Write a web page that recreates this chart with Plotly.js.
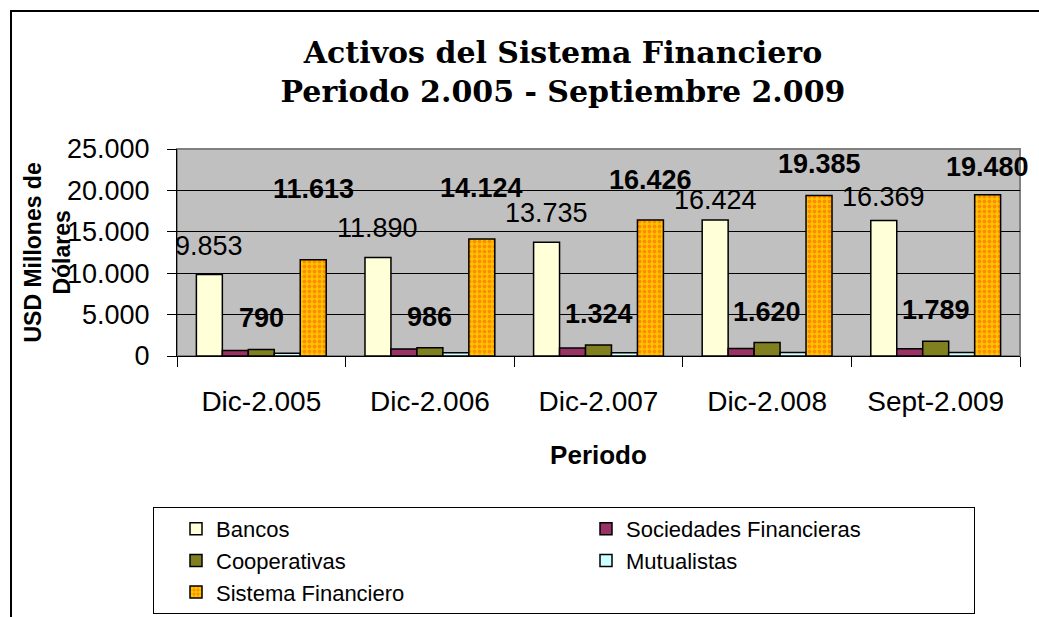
<!DOCTYPE html>
<html><head><meta charset="utf-8">
<script src="https://cdn.plot.ly/plotly-3.0.1.min.js"></script>
<style>html,body{margin:0;padding:0;background:#fff;overflow:hidden}#chart{width:1039px;height:617px}</style>
</head><body><div id="chart"></div>
<script>
// ---- data ----
const categories = ['Dic-2.005', 'Dic-2.006', 'Dic-2.007', 'Dic-2.008', 'Sept-2.009'];
const bancos = [9853, 11890, 13735, 16424, 16369];
const sociedades = [650, 860, 960, 920, 890];
const cooperativas = [790, 986, 1324, 1620, 1789];
const mutualistas = [320, 388, 407, 421, 432];
const sistema = [11613, 14124, 16426, 19385, 19480];
const yTickVals = [0, 5000, 10000, 15000, 20000, 25000];
const seriesNames = ['Bancos', 'Sociedades Financieras', 'Cooperativas', 'Mutualistas', 'Sistema Financiero'];

// ---- label placement (pixels above bar top) ----
const bancosLabelShift = [28, 30, 29, 20, 23];
const coopLabelShift = [31, 31, 31, 31, 31];
const sistemaLabelShift = [71, 51, 40, 31, 28];

// ---- geometry ----
const W = 1039, H = 617, PL = 177, PR = 1020, PT = 149, PB = 356;
const pw = PR - PL, ph = PB - PT;
const px2x = p => (p - PL) / pw;
const px2y = p => (PB - p) / ph;
const BARGAP = 0.23;
const barW = (1 - BARGAP) / 5;

function fmt(v) { return String(v).replace(/\B(?=(\d{3})+(?!\d))/g, '.'); }

const FONT = 'Liberation Sans, Arial, sans-serif';
const line = {color: '#000', width: 1.5};
const traces = [
  {name: seriesNames[0], y: bancos, marker: {color: '#FFFFD8', line}},
  {name: seriesNames[1], y: sociedades, marker: {color: '#993366', line}},
  {name: seriesNames[2], y: cooperativas, marker: {color: '#808020', line}},
  {name: seriesNames[3], y: mutualistas, marker: {color: '#CCFFFF', line}},
  {name: seriesNames[4], y: sistema, marker: {color: '#FFBF00', line,
    pattern: {shape: '.', fgcolor: '#FF8C00', bgcolor: '#FFC400', size: 5, solidity: 0.45, fillmode: 'replace'}}}
].map(t => Object.assign({type: 'bar', x: categories, hoverinfo: 'skip'}, t));

const annotations = [];
function addLabels(vals, k, shifts, bold) {
  vals.forEach((v, i) => annotations.push({
    x: i + (k - 2) * barW, y: v, xref: 'x', yref: 'y',
    text: bold ? '<b>' + fmt(v) + '</b>' : fmt(v),
    showarrow: false, yanchor: 'middle', xanchor: 'center', yshift: shifts[i],
    font: {family: FONT, size: 27, color: '#000'}
  }));
}
addLabels(bancos, 0, bancosLabelShift, false);
addLabels(cooperativas, 2, coopLabelShift, true);
addLabels(sistema, 4, sistemaLabelShift, true);

annotations.push({
  xref: 'paper', yref: 'paper', x: px2x(47), y: 0.5, textangle: -90,
  text: '<b>USD Millones de<br>Dólares</b>', showarrow: false,
  xanchor: 'center', yanchor: 'middle',
  font: {family: FONT, size: 23, color: '#000'}
});

const layout = {
  width: W, height: H,
  margin: {l: PL, r: W - PR, t: PT, b: H - PB, pad: 0, autoexpand: false},
  paper_bgcolor: '#fff', plot_bgcolor: '#C0C0C0',
  separators: ',.',
  barmode: 'group', bargap: BARGAP, bargroupgap: 0,
  showlegend: true,
  title: {
    text: 'Activos del Sistema Financiero<br>Periodo 2.005 - Septiembre 2.009',
    font: {family: 'DejaVu Serif, serif', size: 30, color: '#000', weight: 'bold'},
    xref: 'container', x: 563 / W, xanchor: 'center',
    yref: 'container', y: 1 - 63 / H, yanchor: 'middle'
  },
  xaxis: {
    type: 'category', range: [-0.5, 4.5], tickson: 'boundaries',
    ticks: 'outside', ticklen: 10, tickcolor: '#000', tickwidth: 1,
    showline: true, linecolor: '#000', linewidth: 1, showgrid: false,
    tickfont: {family: FONT, size: 28, color: '#000'},
    ticklabelstandoff: 20,
    automargin: false,
    title: {text: '<b>Periodo</b>', font: {family: FONT, size: 26, color: '#000'}, standoff: 30}
  },
  yaxis: {
    range: [0, 25000], tickvals: yTickVals, tickformat: ',d',
    ticks: 'outside', ticklen: 9, tickcolor: '#000', tickwidth: 1,
    showline: true, linecolor: '#000', linewidth: 1,
    showgrid: true, gridcolor: '#000', gridwidth: 1, zeroline: false,
    tickfont: {family: FONT, size: 27, color: '#000'},
    ticklabelstandoff: 12,
    automargin: false
  },
  legend: {
    orientation: 'h', x: px2x(153), xanchor: 'left', y: px2y(507), yanchor: 'top',
    bgcolor: '#fff', bordercolor: '#000', borderwidth: 1,
    font: {family: FONT, size: 22, color: '#000'},
    indentation: 22,
    entrywidth: 343, entrywidthmode: 'pixels', traceorder: 'normal'
  },
  shapes: [
    {type: 'rect', xref: 'paper', yref: 'paper', x0: 0, x1: 1, y0: 0, y1: 1,
     line: {color: '#808080', width: 2}, layer: 'below'},
    {type: 'rect', xref: 'paper', yref: 'paper', x0: px2x(11), x1: px2x(1050), y0: px2y(630), y1: px2y(11),
     line: {color: '#000', width: 2}, layer: 'above'}
  ],
  annotations
};

Plotly.newPlot('chart', traces, layout, {displayModeBar: false, staticPlot: true});
</script>
</body></html>
